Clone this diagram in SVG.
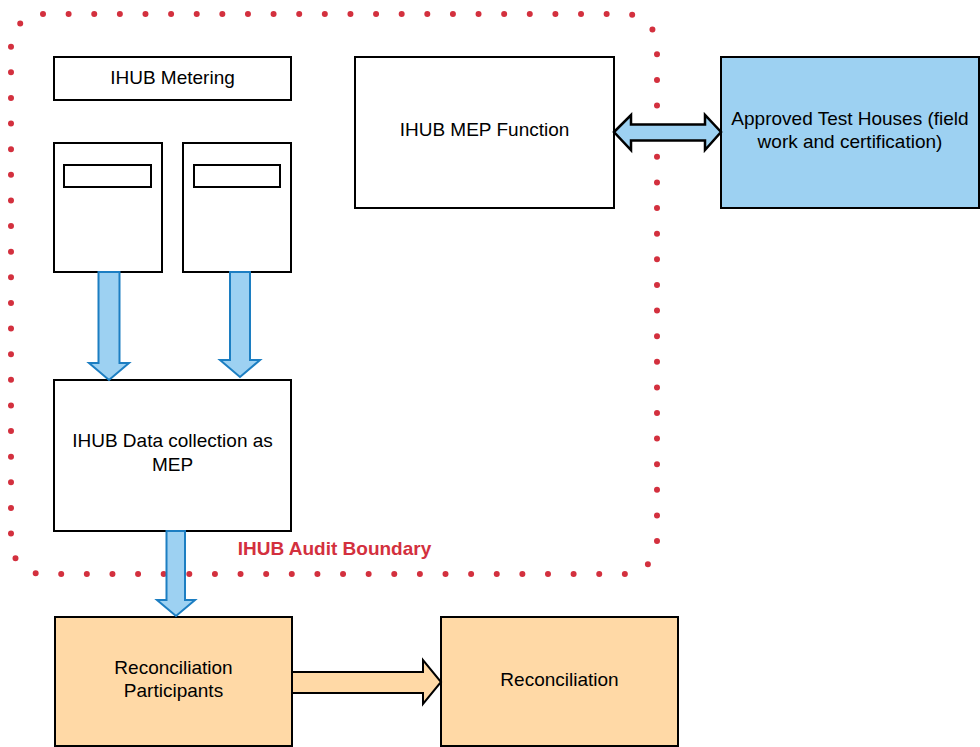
<svg xmlns="http://www.w3.org/2000/svg" width="980" height="747" viewBox="0 0 980 747">
<style>
.box{fill:#fff;stroke:#000;stroke-width:2}
.orange{fill:#FFD9A6;stroke:#000;stroke-width:2}
.bluebox{fill:#9DD1F2;stroke:#000;stroke-width:2}
.t{font-family:"Liberation Sans",Arial,sans-serif;font-size:19px;fill:#000;text-anchor:middle}
.barrow{fill:#9DD1F2;stroke:#1C7EC2;stroke-width:2;stroke-linejoin:miter}
.oarrow{fill:#FFD9A6;stroke:#000;stroke-width:2}
.darrow{fill:#9DD1F2;stroke:#000;stroke-width:2.5}
</style>
<rect width="980" height="747" fill="#fff"/>
<g id="boundary">
<rect x="11" y="14" width="646" height="560" rx="32" fill="none" stroke="#D3303E" stroke-width="6" stroke-linecap="round" stroke-dasharray="0 25.62"/>
<text x="334.5" y="555" font-family="'Liberation Sans',Arial,sans-serif" font-size="19" font-weight="bold" fill="#D3303E" text-anchor="middle">IHUB Audit Boundary</text>
</g>
<g id="metering">
<rect class="box" x="54" y="57" width="237" height="43"/>
<text class="t" x="172.5" y="84">IHUB Metering</text>
</g>
<g id="meter1">
<rect class="box" x="54" y="143" width="108" height="129"/>
<rect class="box" x="64" y="165" width="87" height="22"/>
</g>
<g id="meter2">
<rect class="box" x="183" y="143" width="108" height="129"/>
<rect class="box" x="194" y="165" width="86" height="22"/>
</g>
<g id="datacollection">
<rect class="box" x="54" y="380" width="237" height="151"/>
<text class="t" x="172.5" y="447">IHUB Data collection as</text>
<text class="t" x="172.5" y="471">MEP</text>
</g>
<g id="mep">
<rect class="box" x="355" y="57" width="259" height="151"/>
<text class="t" x="484.5" y="136">IHUB MEP Function</text>
</g>
<g id="testhouses">
<rect class="bluebox" x="721" y="57" width="258" height="151"/>
<text class="t" x="850" y="125">Approved Test Houses (field</text>
<text class="t" x="850" y="148">work and certification)</text>
</g>
<g id="recparticipants">
<rect class="orange" x="55" y="617" width="237" height="129"/>
<text class="t" x="173.5" y="674">Reconciliation</text>
<text class="t" x="173.5" y="697">Participants</text>
</g>
<g id="reconciliation">
<rect class="orange" x="441" y="617" width="237" height="129"/>
<text class="t" x="559.5" y="686">Reconciliation</text>
</g>
<g id="connectors">
<path class="barrow" d="M98.5,272 L119.5,272 L119.5,363 L129,363 L109,380 L89,363 L98.5,363 Z"/>
<path class="barrow" d="M230,272 L250,272 L250,360 L260,360 L240,377 L220,360 L230,360 Z"/>
<path class="barrow" d="M166.5,531 L185,531 L185,600 L195,600 L176,616 L157,600 L166.5,600 Z"/>
<path class="oarrow" d="M292,672 L423,672 L423,660 L441,682 L423,704 L423,693 L292,693 Z"/>
<path class="darrow" d="M614,132 L631,115 L631,124.5 L705,124.5 L705,115 L721,132 L705,150 L705,140.5 L631,140.5 L631,150 Z"/>
</g>
</svg>
